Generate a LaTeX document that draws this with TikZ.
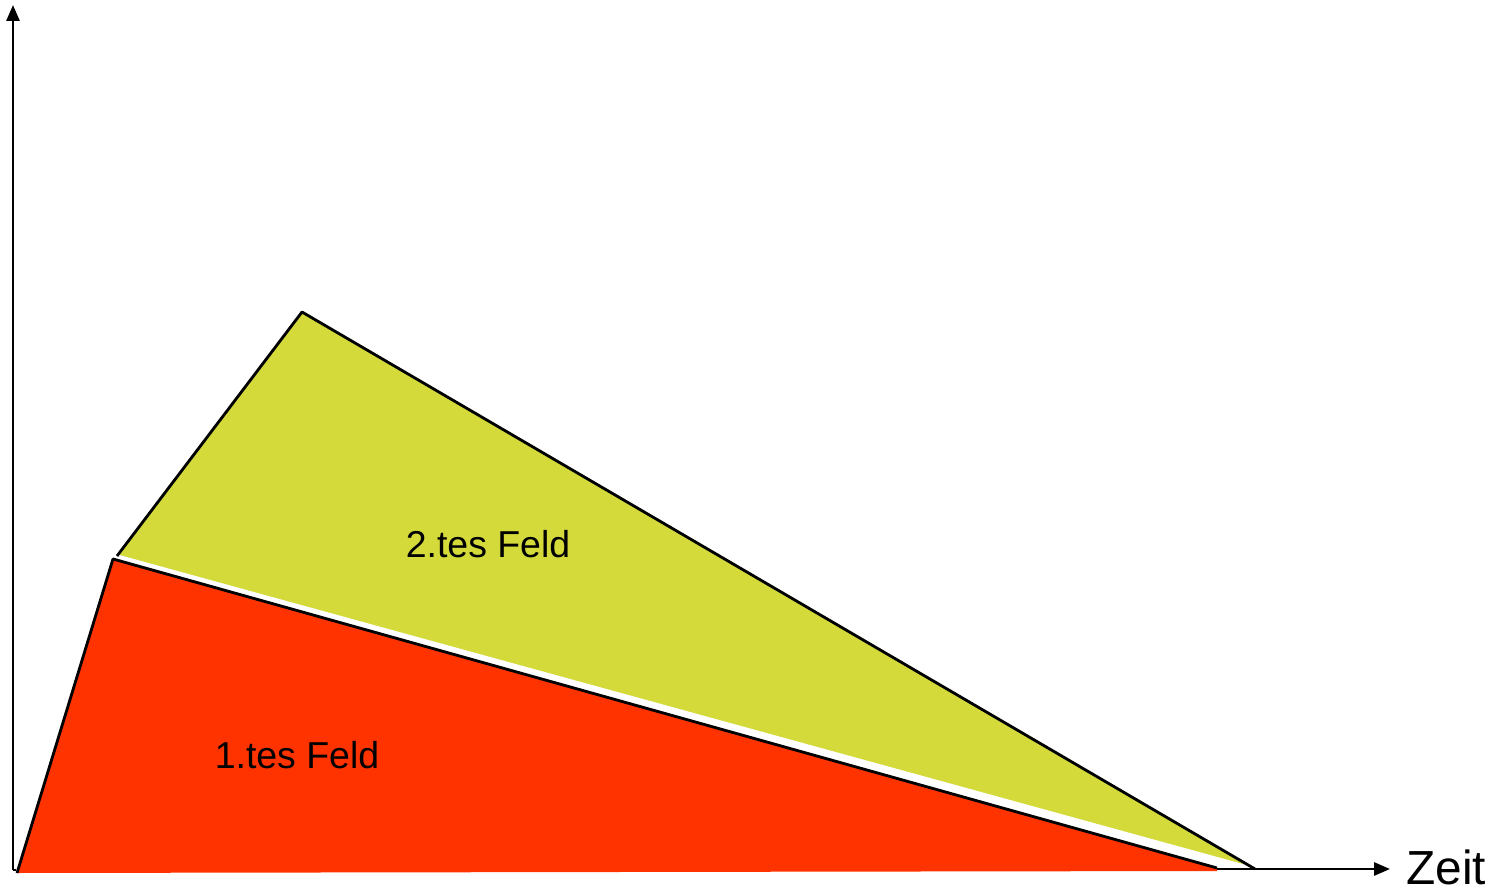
\documentclass[tikz,border=0pt]{standalone}
\usepackage{fontspec}
\setmainfont{Liberation Sans}
\usetikzlibrary{arrows.meta}
\definecolor{feldrot}{HTML}{FF3300}
\definecolor{feldgelb}{HTML}{D3DA3A}
\tikzset{
  achse/.style={line width=0.8pt,-{Triangle[length=0.16cm,width=0.13cm]}},
  kante/.style={line width=0.8pt,line join=round},
  feldtext/.style={font=\fontsize{10.65}{12}\selectfont}
}
\begin{document}
\begin{tikzpicture}[x=0.01cm,y=-0.01cm]
		\useasboundingbox (0,0) rectangle (1492,889);
		% Achsen
		\coordinate (o) at (13,870);
		\coordinate (ytop) at (13,5);
		\coordinate (xend) at (1390,869);
		\draw[achse] (o) -- (ytop);
		\draw[line width=0.8pt] (o) -- (16,870);
		
		% 1.tes Feld
		\coordinate (r1) at (17,873);
		\coordinate (r2) at (113,559);
		\coordinate (r3) at (1217,868);
		\fill[feldrot] (r1) -- (r2) -- (r3) -- (1217,871) -- cycle;
		\draw[kante] (r1) -- (r2) -- (r3);
		
		% 2.tes Feld
		\coordinate (g1) at (117,556);
		\coordinate (g2) at (302,312);
		\coordinate (g3) at (1255,869);
		\fill[feldgelb] (g1) -- (g2) -- (g3) -- cycle;
		\draw[white,line width=0.9pt] (g1) -- (g3);
		\draw[kante] (g1) -- (g2) -- (g3);
		\draw[achse] (1217,869) -- (xend);
		
		\node[feldtext] (feld2) at (488,544) {2.tes Feld};
		\node[feldtext] (feld1) at (297,755) {1.tes Feld};
		\node[font=\fontsize{13.6}{15}\selectfont,anchor=west] (zeit) at (1394,867) {Zeit};
	\end{tikzpicture}
\end{document}
